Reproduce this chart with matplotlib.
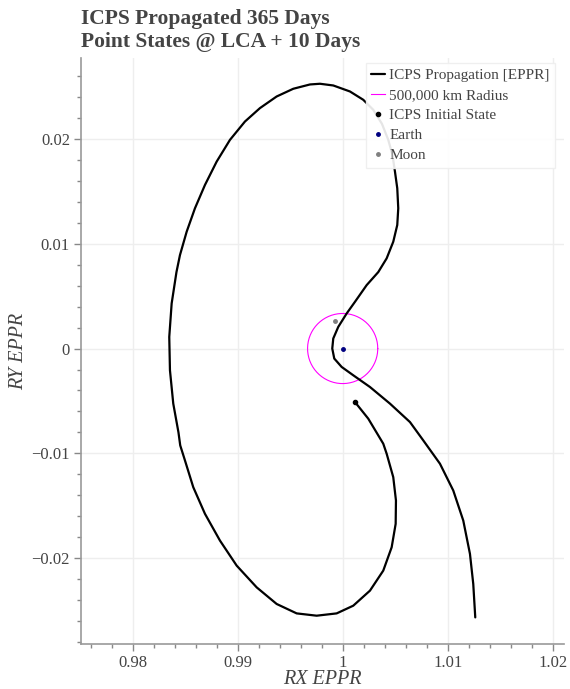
import matplotlib.pyplot as plt
import numpy as np
from matplotlib.ticker import MultipleLocator, FuncFormatter

# trajectory (EPPR units), starting at the initial state
rx = [1.001171, 1.002438, 1.003867, 1.004190, 1.004819, 1.005076, 1.005048, 1.004667,
      1.003867, 1.002600, 1.001010, 0.999429, 0.997524, 0.995619, 0.993714, 0.991810,
      0.989905, 0.988314, 0.986886, 0.985771, 0.984981, 0.984530, 0.984362, 0.983867,
      0.983552, 0.983486, 0.983714, 0.984171, 0.984505, 0.985143, 0.985933, 0.986886,
      0.988000, 0.989267, 0.990695, 0.992124, 0.993714, 0.995295, 0.996886, 0.997838,
      0.999105, 1.000695, 1.001962, 1.002914, 1.003743, 1.004343, 1.004743, 1.004981,
      1.005200, 1.005295, 1.005200, 1.004819, 1.004190, 1.003390, 1.002286, 1.001171,
      1.000381, 0.999581, 0.999105, 0.999010, 0.999200, 0.999905, 1.001010, 1.002600,
      1.004505, 1.006410, 1.007676, 1.009267, 1.010533, 1.011486, 1.012124, 1.012438,
      1.012629]
ry = [-0.005100, -0.006686, -0.009074, -0.010029, -0.012264, -0.014489, -0.016714, -0.018949,
      -0.021175, -0.023085, -0.024518, -0.025253, -0.025473, -0.025253, -0.024355, -0.022770,
      -0.020697, -0.018310, -0.015759, -0.013219, -0.010669, -0.009236, -0.007994, -0.005253,
      -0.002073, 0.001108, 0.004298, 0.007287, 0.008911, 0.011137, 0.013372, 0.015597,
      0.017822, 0.019895, 0.021643, 0.022923, 0.024031, 0.024766, 0.025177, 0.025244,
      0.025081, 0.024508, 0.023716, 0.022760, 0.021423, 0.019895, 0.018462, 0.016867,
      0.015282, 0.013372, 0.011777, 0.010181, 0.008596, 0.007287, 0.006046, 0.004451,
      0.003343, 0.002063, 0.000955, 0.000000, -0.000955, -0.001757, -0.002550, -0.003668,
      -0.005253, -0.007011, -0.008758, -0.010984, -0.013534, -0.016399, -0.019580, -0.022445,
      -0.025635]

earth = (1.0, 0.0)
moon = (0.99930, 0.00258)
radius = 500000 / 149597870.7  # 500,000 km in AU

plt.rcParams['font.family'] = ['Liberation Serif', 'DejaVu Serif']
txt = '#444444'

fig = plt.figure(figsize=(5.7, 6.89), dpi=100)
ax = fig.add_axes([81 / 570, 44.7 / 689, 483 / 570, 586.3 / 689])

ax.plot(rx, ry, color='black', lw=1.6, zorder=3, label='ICPS Propagation [EPPR]',
        solid_joinstyle='round', solid_capstyle='round')
th = np.linspace(0, 2 * np.pi, 200)
ax.plot(earth[0] + radius * np.cos(th), earth[1] + radius * np.sin(th),
        color='magenta', lw=0.8, zorder=2, label='500,000 km Radius')
ax.plot([rx[0]], [ry[0]], 'o', color='black', ms=3, zorder=4, label='ICPS Initial State')
ax.plot([earth[0]], [earth[1]], 'o', color='navy', ms=2.5, zorder=4, label='Earth')
ax.plot([moon[0]], [moon[1]], 'o', color='gray', ms=2.5, zorder=4, label='Moon')

ax.set_xlim(0.97508, 1.02108)
ax.set_ylim(-0.0282, 0.0277)

fmt = FuncFormatter(lambda v, p: ('%g' % round(v, 4)).replace('-', '\u2212'))
for a in (ax.xaxis, ax.yaxis):
    a.set_major_locator(MultipleLocator(0.01))
    a.set_minor_locator(MultipleLocator(0.002))
    a.set_major_formatter(fmt)
ax.tick_params(which='major', length=5, width=1, color='#888888', labelcolor=txt,
               labelsize=12, pad=3)
ax.tick_params(which='minor', length=3, width=1, color='#888888')
ax.grid(which='major', color='#eeeeee', lw=1)
ax.set_axisbelow(True)
for s in ('top', 'right'):
    ax.spines[s].set_visible(False)
for s in ('left', 'bottom'):
    ax.spines[s].set_color('#999999')
    ax.spines[s].set_linewidth(1.2)

ax.set_xlabel('RX EPPR', fontsize=14.5, style='italic', color=txt)
ax.set_ylabel('RY EPPR', fontsize=14.5, style='italic', color=txt)
ax.xaxis.set_label_coords(0.5, (689 - 679.5 - 44.7) / 586.3)
ax.xaxis.label.set_verticalalignment('center')
ax.yaxis.set_label_coords((19 - 81) / 483, 0.5)
ax.yaxis.label.set_verticalalignment('center')

fig.text(81 / 570, 1 - 9 / 689, 'ICPS Propagated 365 Days\nPoint States @ LCA + 10 Days',
         ha='left', va='top', fontsize=15.5, fontweight='bold', color=txt, linespacing=1.18)

leg = ax.legend(loc='upper right', bbox_to_anchor=(1.0 - 9 / 483, 1.0 - 5 / 586.3),
                fontsize=11, frameon=True, fancybox=False, handlelength=0.9,
                handletextpad=0.3, borderpad=0.35, labelspacing=0.42, borderaxespad=0)
leg.get_frame().set_edgecolor('#eeeeee')
leg.get_frame().set_alpha(0.9)
for t in leg.get_texts():
    t.set_color(txt)

fig.savefig('out.png', dpi=100)
